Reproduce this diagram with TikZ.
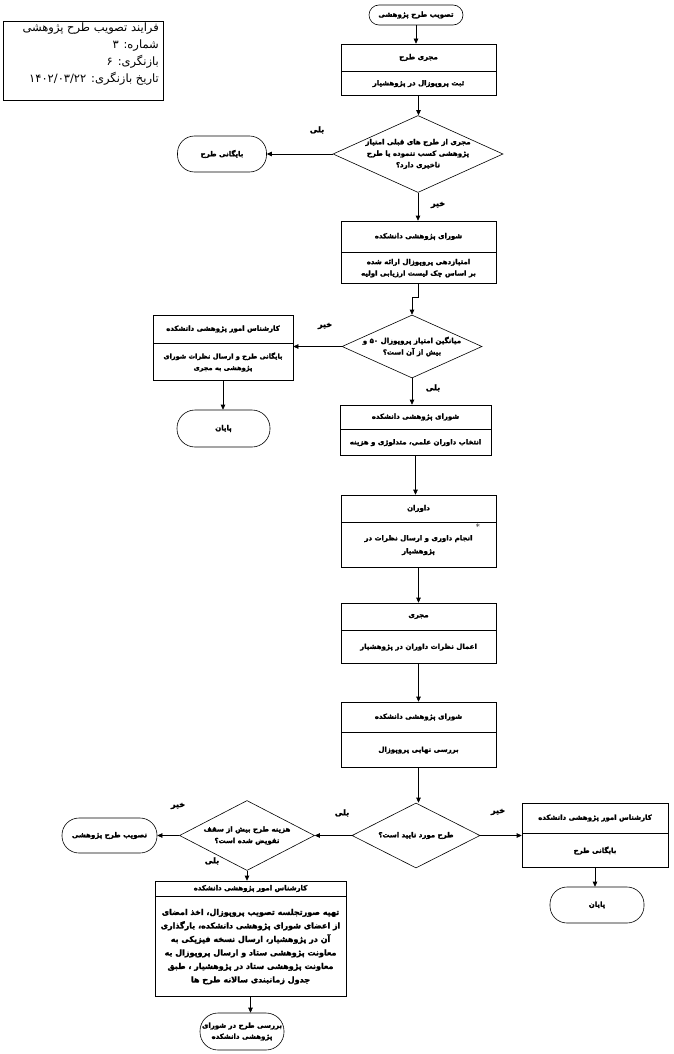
\documentclass[tikz,border=0pt]{standalone}
\usepackage{fontspec}
\usetikzlibrary{shapes.geometric,arrows.meta,calc}
\TeXXeTstate=1
\newfontfamily\fa{DejaVu Sans}[Script=Arabic, BoldFeatures={FakeBold=2}]
\newcommand\FaL[1]{\beginR #1\endR}
\tikzset{
  x=1pt, y=-1pt,
  base/.style={font=\fa\bfseries\fontsize{7}{11.5}\selectfont, align=center, inner sep=1pt},
  hbox/.style={base, draw, rectangle, minimum width=155pt, line width=0.6pt},
  term/.style={base, draw, rectangle, line width=0.6pt},
  dia/.style={draw, diamond, line width=0.6pt, inner sep=0pt},
  arr/.style={line width=0.6pt, -{Triangle[length=5pt,width=4.5pt]}},
  lbl/.style={base, font=\fa\bfseries\fontsize{8}{9}\selectfont}
}
\begin{document}
\begin{tikzpicture}
\useasboundingbox (0,0) rectangle (673,1054);
\fill[white] (0,0) rectangle (673,1054);
% info box
\node[draw, line width=0.6pt, minimum width=160pt, minimum height=79pt, anchor=north west, inner sep=0pt] (info) at (3,21) {};
\node[anchor=north east, align=right, inner sep=0pt, font=\fa\fontsize{11.5}{17}\selectfont] (infotext) at (159,23)
 {\FaL{فرایند تصویب طرح پژوهشی}\\ \FaL{شماره: ۳}\\ \FaL{بازنگری: ۶}\\ \FaL{تاریخ بازنگری: \beginL ۱۴۰۲/۰۳/۲۲\endL{}}};
% start
\node[term, minimum width=94pt, minimum height=20pt, rounded corners=10pt] (start) at (416,15) {\FaL{تصویب طرح پژوهشی}};
% box1
\node[hbox, minimum height=27pt] (b1h) at (418.5,57.5) {\FaL{مجری طرح}};
\node[hbox, minimum height=24pt, anchor=north] (b1b) at (b1h.south) {\FaL{ثبت پروپوزال در پژوهشیار}};
% diamond 1
\node[dia, minimum width=170pt, minimum height=77pt] (d1) at (418,154) {};
\node[base] (d1t) at (d1.center) {\FaL{مجری از طرح های قبلی امتیاز}\\ \FaL{پژوهشی کسب ننموده یا طرح}\\ \FaL{تاخیری دارد؟}};
\node[term, minimum width=89pt, minimum height=36pt, rounded corners=17pt] (t1) at (222,154) {\FaL{بایگانی طرح}};
\node[lbl] (l1) at (317,130) {\FaL{بلی}};
\node[lbl] (l2) at (438,205) {\FaL{خیر}};
% box2
\node[hbox, minimum height=31pt] (b2h) at (418.5,236.5) {\FaL{شورای پژوهشی دانشکده}};
\node[hbox, minimum height=31pt, anchor=north] (b2b) at (b2h.south) {\FaL{امتیازدهی پروپوزال ارائه شده}\\ \FaL{بر اساس چک لیست ارزیابی اولیه}};
% diamond 2
\node[dia, minimum width=140pt, minimum height=63pt] (d2) at (412,346.5) {};
\node[base] (d2t) at (d2.center) {\FaL{میانگین امتیاز پروپوزال \beginL ۵۰\endL{} و}\\ \FaL{بیش از آن است؟}};
\node[lbl] (l3) at (325,326) {\FaL{خیر}};
\node[lbl] (l4) at (433,388) {\FaL{بلی}};
% left box 1
\node[hbox, minimum width=140pt, minimum height=28pt] (L1h) at (223,329) {\FaL{کارشناس امور پژوهشی دانشکده}};
\node[hbox, minimum width=140pt, minimum height=37pt, anchor=north, font=\fa\bfseries\fontsize{6.6}{11.5}\selectfont] (L1b) at (L1h.south) {\FaL{بایگانی طرح و ارسال نظرات شورای}\\ \FaL{پژوهشی به مجری}};
\node[term, minimum width=93pt, minimum height=37pt, rounded corners=18pt] (t2) at (223.5,428.5) {\FaL{پایان}};
% box3
\node[hbox, minimum width=151pt, minimum height=24pt] (b3h) at (415.5,417) {\FaL{شورای پژوهشی دانشکده}};
\node[hbox, minimum width=151pt, minimum height=26pt, anchor=north] (b3b) at (b3h.south) {\FaL{انتخاب داوران علمی، متدلوژی و هزینه}};
% box4
\node[hbox, minimum height=27pt] (b4h) at (418.5,508.5) {\FaL{داوران}};
\node[hbox, minimum height=45pt, anchor=north, font=\fa\bfseries\fontsize{7}{13}\selectfont] (b4b) at (b4h.south) {\FaL{انجام داوری و ارسال نظرات در}\\ \FaL{پژوهشیار}};
\node[inner sep=0pt, font=\fontsize{9}{9}\selectfont] (ast) at (478,527) {*};
% box5
\node[hbox, minimum height=27pt] (b5h) at (418.5,616.5) {\FaL{مجری}};
\node[hbox, minimum height=33pt, anchor=north] (b5b) at (b5h.south) {\FaL{اعمال نظرات داوران در پژوهشیار}};
% box6
\node[hbox, minimum height=30pt] (b6h) at (418.5,717) {\FaL{شورای پژوهشی دانشکده}};
\node[hbox, minimum height=35pt, anchor=north] (b6b) at (b6h.south) {\FaL{بررسی نهایی پروپوزال}};
% diamond 3
\node[dia, minimum width=128pt, minimum height=65pt] (d3) at (416,835.5) {};
\node[base] (d3t) at (d3.center) {\FaL{طرح مورد تایید است؟}};
\node[lbl] (l5) at (342,813) {\FaL{بلی}};
\node[lbl] (l6) at (498,812) {\FaL{خیر}};
% right box
\node[hbox, minimum width=146pt, minimum height=30pt] (RBh) at (595,818) {\FaL{کارشناس امور پژوهشی دانشکده}};
\node[hbox, minimum width=146pt, minimum height=34pt, anchor=north] (RBb) at (RBh.south) {\FaL{بایگانی طرح}};
\node[term, minimum width=94pt, minimum height=36pt, rounded corners=17pt] (t3) at (597,905) {\FaL{پایان}};
% diamond 4
\node[dia, minimum width=135pt, minimum height=70pt] (d4) at (247,835.5) {};
\node[base] (d4t) at (d4.center) {\FaL{هزینه طرح بیش از سقف}\\ \FaL{تفویض شده است؟}};
\node[lbl] (l7) at (178,806) {\FaL{خیر}};
\node[lbl] (l8) at (212,861) {\FaL{بلی}};
\node[term, minimum width=95pt, minimum height=35pt, rounded corners=17pt] (t4) at (109.5,835.5) {\FaL{تصویب طرح پژوهشی}};
% bottom-left box
\node[hbox, minimum width=191pt, minimum height=15pt] (LBh) at (250.5,888.5) {\FaL{کارشناس امور پژوهشی دانشکده}};
\node[hbox, minimum width=191pt, minimum height=100pt, anchor=north, font=\fa\bfseries\fontsize{8}{13.5}\selectfont] (LBb) at (LBh.south)
 {\FaL{تهیه صورتجلسه تصویب پروپوزال، اخذ امضای}\\
  \FaL{از اعضای شورای پژوهشی دانشکده، بارگذاری}\\
  \FaL{آن در پژوهشیار، ارسال نسخه فیزیکی به}\\
  \FaL{معاونت پژوهشی ستاد و ارسال پروپوزال به}\\
  \FaL{معاونت پژوهشی ستاد در پژوهشیار ، طبق}\\
  \FaL{جدول زمانبندی سالانه طرح ها}};
\node[term, minimum width=84pt, minimum height=37pt, rounded corners=18pt, font=\fa\bfseries\fontsize{7}{11}\selectfont] (t5) at (242,1031.5) {\FaL{بررسی طرح در شورای}\\ \FaL{پژوهشی دانشکده}};
% connectors
\draw[arr] (start.south) -- (start.south |- b1h.north);
\draw[arr] (b1b.south) -- (b1b.south |- d1.north);
\draw[arr] (d1.west) -- (t1.east);
\draw[arr] (d1.south) -- (d1.south |- b2h.north);
\coordinate (j2) at ($(b2b.south |- 0,297)$);
\draw[arr] (b2b.south) -- (j2) -| (d2.north);
\draw[arr] (d2.west) -- (d2.west -| L1b.east);
\draw[arr] (L1b.south) -- (L1b.south |- t2.north);
\draw[arr] (d2.south) -- (d2.south |- b3h.north);
\draw[arr] (b3b.south) -- (b3b.south |- b4h.north);
\draw[arr] (b4b.south) -- (b4b.south |- b5h.north);
\draw[arr] (b5b.south) -- (b5b.south |- b6h.north);
\draw[arr] (b6b.south) -- (b6b.south |- d3.north);
\draw[arr] (d3.east) -- (d3.east -| RBb.west);
\draw[arr] (RBb.south) -- (RBb.south |- t3.north);
\draw[arr] (d3.west) -- (d4.east);
\draw[arr] (d4.west) -- (t4.east);
\draw[arr] (d4.south) -- (d4.south |- LBh.north);
\draw[arr] (LBb.south) -- (LBb.south |- t5.north);
\end{tikzpicture}
\end{document}
